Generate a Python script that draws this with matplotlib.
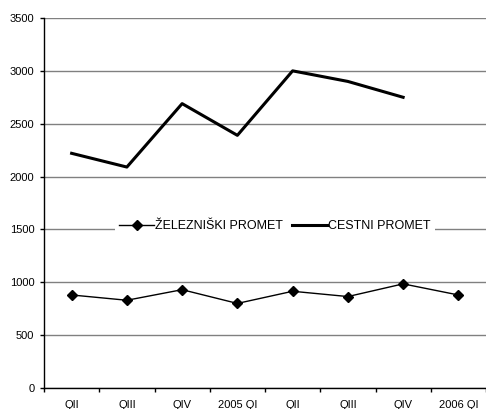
import matplotlib
matplotlib.use("Agg")
import matplotlib.pyplot as plt
import numpy as np

plt.rcParams['font.family'] = ['Liberation Sans', 'DejaVu Sans']

categories = ["QII", "QIII", "QIV", "2005 QI", "QII", "QIII", "QIV", "2006 QI"]
zelezniski = [880, 830, 930, 800, 915, 865, 985, 880]
cestni = [2220, 2090, 2690, 2390, 3000, 2900, 2750, np.nan]

fig = plt.figure(figsize=(4.86, 4.09), dpi=100)
ax = fig.add_axes([44/486, 21/409, 442/486, 370/409])

x = np.arange(len(categories))
ax.plot(x, zelezniski, color='black', lw=1, marker='D', markersize=5,
        label='ŽELEZNIŠKI PROMET', zorder=3)
ax.plot(x, cestni, color='black', lw=2.2, label='CESTNI PROMET', zorder=3)

ax.set_xlim(-0.5, len(categories) - 0.5)
ax.set_ylim(0, 3500)
ax.set_yticks(np.arange(0, 3501, 500))
ax.yaxis.grid(True, color='#808080', lw=1)
ax.set_axisbelow(True)

ax.set_xticks(x)
ax.set_xticklabels(categories)
ax.set_xticks(np.arange(-0.5, len(categories), 1), minor=True)
ax.tick_params(axis='x', which='major', length=0, pad=9, labelsize=8)
ax.tick_params(axis='x', which='minor', length=3, width=1)
ax.tick_params(axis='y', length=3, width=1, labelsize=8, pad=4)

for s in ['top', 'right']:
    ax.spines[s].set_visible(False)
ax.spines['left'].set_linewidth(1)
ax.spines['bottom'].set_linewidth(1)

leg = ax.legend(loc='center', bbox_to_anchor=((275 - 44) / 442, 1530/3500), ncol=2,
                frameon=True, fontsize=9, handlelength=2.8, handletextpad=0.1,
                columnspacing=0.7, borderpad=0.3, borderaxespad=0, fancybox=False)
leg.get_frame().set_edgecolor('none')
leg.get_frame().set_facecolor('white')
leg.get_frame().set_alpha(1)

fig.savefig("out.png", dpi=100)
